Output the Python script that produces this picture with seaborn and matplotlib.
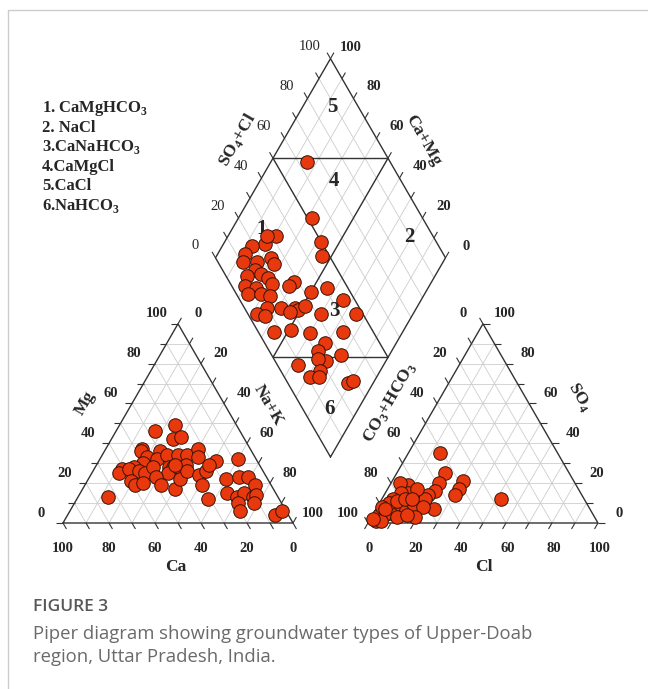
import numpy as np
import pandas as pd
import seaborn as sns
import matplotlib.pyplot as plt
from matplotlib.lines import Line2D

# cation triangle, %
ca = [27, 37, 31, 27, 47, 48, 40, 47, 43, 38, 33, 29, 50, 55, 61, 63, 58, 54, 52, 47,
      40, 38, 42, 36, 32, 60, 59, 55, 48, 48, 43, 38, 74, 23, 25, 18, 8, 33, 29, 25,
      30, 31, 18, 12, 8, 7, 21, 18, 14, 11, 9, 12, 19, 20, 6, 2, 37, 22]
mg = [49, 46, 42, 43, 37, 36, 36, 33, 32, 34, 34, 34, 30, 28, 27, 25, 27, 26, 25, 28,
      28, 28, 25, 28, 29, 21, 19, 20, 23, 19, 17, 22, 13, 37, 33, 31, 32, 26, 24, 26,
      19, 12, 22, 23, 23, 19, 15, 13, 15, 13, 14, 10, 10, 6, 4, 6, 29, 29]
nak = [24, 17, 27, 30, 16, 16, 24, 20, 25, 28, 33, 37, 20, 17, 12, 12, 15, 20, 23, 25,
       32, 34, 33, 36, 39, 19, 22, 25, 29, 33, 40, 40, 13, 40, 42, 51, 60, 41, 47, 49,
       51, 57, 60, 65, 69, 74, 64, 69, 71, 76, 77, 78, 71, 74, 90, 92, 34, 49]

# anion triangle, %
hco3 = [51, 54, 48, 52, 55, 36, 59, 63, 67, 72, 68, 73, 76, 75, 78, 69, 76, 72, 82, 85,
        88, 91, 93, 96, 86, 78, 81, 94, 83, 86, 90, 82, 78, 70, 97, 89, 75]
cl = [14, 21, 31, 31, 31, 52, 21, 21, 19, 16, 25, 8, 4, 10, 7, 19, 15, 20, 12, 7,
      7, 5, 3, 3, 11, 19, 15, 5, 5, 4, 2, 7, 10, 13, 1, 4, 13]
so4 = [35, 25, 21, 17, 14, 12, 20, 16, 14, 12, 7, 19, 20, 15, 15, 12, 9, 8, 6, 8,
       5, 4, 4, 1, 3, 3, 4, 1, 12, 10, 8, 11, 12, 17, 2, 7, 12]

# diamond, %
dia_nak = [16, 32, 42, 46, 21, 18, 13, 17, 12, 24, 13, 19, 27, 20, 18, 24, 28, 31, 20, 25,
           23, 29, 33, 40, 39, 56, 50, 66, 35, 41, 47, 49, 51, 46, 32, 36, 60, 75, 44, 51,
           60, 74, 69, 68, 74, 79, 63, 70, 74, 71, 75, 89, 91]
dia_so4cl = [64, 52, 50, 47, 32, 25, 19, 28, 14, 24, 11, 17, 24, 14, 9, 16, 18, 18, 6, 10,
             5, 11, 14, 28, 25, 41, 33, 45, 10, 16, 22, 23, 27, 19, 4, 7, 32, 47, 7, 15,
             22, 37, 26, 21, 22, 30, 9, 19, 17, 11, 15, 26, 29]

ticks = [0, 20, 40, 60, 80, 100]
legend_lines = ["1. CaMgHCO$_3$", "2. NaCl", "3.CaNaHCO$_3$", "4.CaMgCl", "5.CaCl", "6.NaHCO$_3$"]
zone_labels = ["1", "2", "3", "4", "5", "6"]
caption_title = "FIGURE 3"
caption_lines = ["Piper diagram showing groundwater types of Upper-Doab",
                 "region, Uttar Pradesh, India."]

sns.set_theme(style="white")
plt.rcParams['font.family'] = ['Liberation Serif', 'DejaVu Serif']
plt.rcParams['mathtext.fontset'] = 'custom'
plt.rcParams['mathtext.rm'] = 'Liberation Serif:bold'
plt.rcParams['mathtext.bf'] = 'Liberation Serif:bold'

H = np.sqrt(3) / 2
G = 0.326      # gap between the two triangles (side = 1)
DY = 0.287     # height of the diamond's lower corner
X2 = 1 + G     # left corner of anion triangle
BX, BY = 1 + G / 2, DY
LV = (BX - 0.5, BY + H)   # diamond left corner
RV = (BX + 0.5, BY + H)   # diamond right corner
TV = (BX, BY + 2 * H)     # diamond top

GRID = '#cdcdcd'
EDGE = '#333333'
DOT = '#E8380D'
TL = 0.03

fig = plt.figure(figsize=(6.48, 6.89), dpi=100)
ax = fig.add_axes([0, 0, 1, 1])
ax.set_xlim(-63 / 230, (648 - 63) / 230)
ax.set_ylim(-166 / 230, 523 / 230)
ax.axis('off')


def seg(p, q, **kw):
    ax.plot([p[0], q[0]], [p[1], q[1]], solid_capstyle='butt', **kw)


def triangle(x0):
    for f in np.arange(0.1, 0.95, 0.1):
        seg((x0 + f / 2, f * H), (x0 + 1 - f / 2, f * H), color=GRID, lw=0.6)
        seg((x0 + f, 0), (x0 + f + (1 - f) / 2, (1 - f) * H), color=GRID, lw=0.6)
        seg((x0 + 1 - f, 0), (x0 + (1 - f) / 2, (1 - f) * H), color=GRID, lw=0.6)
    ax.plot([x0, x0 + 1, x0 + 0.5, x0], [0, 0, H, 0], color=EDGE, lw=1.0)


triangle(0)
triangle(X2)

# diamond grid
for f in np.arange(0.1, 0.95, 0.1):
    p = (BX + 0.5 * f, BY + H * f)
    seg(p, (p[0] - 0.5, p[1] + H), color=GRID, lw=0.6)
    p = (BX - 0.5 * f, BY + H * f)
    seg(p, (p[0] + 0.5, p[1] + H), color=GRID, lw=0.6)
ax.plot([BX, RV[0], TV[0], LV[0], BX], [BY, RV[1], TV[1], LV[1], BY], color=EDGE, lw=1.0)
# zone boundaries
seg((BX - 0.25, BY + 1.5 * H), (BX + 0.25, BY + 1.5 * H), color=EDGE, lw=1.0)
seg((BX - 0.25, BY + 0.5 * H), (BX + 0.25, BY + 0.5 * H), color=EDGE, lw=1.0)
seg((BX - 0.25, BY + 1.5 * H), (BX + 0.25, BY + 0.5 * H), color=EDGE, lw=1.0)
seg((BX + 0.25, BY + 1.5 * H), (BX - 0.25, BY + 0.5 * H), color=EDGE, lw=1.0)

# tick marks
for f in np.arange(0, 1.01, 0.1):
    # cation triangle
    seg((f, 0), (f + 0.5 * TL, -H * TL), color=EDGE, lw=0.8)
    seg((f / 2, f * H), (f / 2 - TL, f * H), color=EDGE, lw=0.8)
    seg((1 - f / 2, f * H), (1 - f / 2 + 0.5 * TL, f * H + H * TL), color=EDGE, lw=0.8)
    # anion triangle
    seg((X2 + f, 0), (X2 + f - 0.5 * TL, -H * TL), color=EDGE, lw=0.8)
    seg((X2 + f / 2, f * H), (X2 + f / 2 - 0.5 * TL, f * H + H * TL), color=EDGE, lw=0.8)
    seg((X2 + 1 - f / 2, f * H), (X2 + 1 - f / 2 + TL, f * H), color=EDGE, lw=0.8)
    # diamond upper edges
    p = (LV[0] + 0.5 * f, LV[1] + H * f)
    seg(p, (p[0] - 0.5 * TL, p[1] + H * TL), color=EDGE, lw=0.8)
    p = (RV[0] - 0.5 * f, RV[1] + H * f)
    seg(p, (p[0] + 0.5 * TL, p[1] + H * TL), color=EDGE, lw=0.8)

# tick labels
kw = dict(ha='center', va='center', fontsize=10.5)
for v in ticks:
    f = v / 100
    ax.text(1 - f, -0.109, str(v), fontweight='bold', **kw)                      # Ca
    ax.text(f / 2 - 0.093, f * H + 0.043, str(v), fontweight='bold', **kw)        # Mg
    ax.text(0.5 + f / 2 + 0.087, (1 - f) * H + 0.043, str(v), fontweight='bold', **kw)  # Na+K
    ax.text(X2 + f + 0.006, -0.109, str(v), fontweight='bold', **kw)              # Cl
    ax.text(X2 + (1 - f) / 2 - 0.088, (1 - f) * H + 0.043, str(v), fontweight='bold', **kw)  # HCO3
    ax.text(X2 + 1 - f / 2 + 0.093, f * H + 0.043, str(v), fontweight='bold', **kw)  # SO4
    ax.text(LV[0] + 0.5 * f - 0.09, LV[1] + H * f + 0.052, str(v), **kw)          # SO4+Cl
    ax.text(RV[0] - 0.5 * f + 0.09, RV[1] + H * f + 0.05, str(v), fontweight='bold', **kw)  # Ca+Mg

# axis titles
lab = dict(ha='center', va='center', fontsize=12.5, fontweight='bold')
ax.text(0.491, -0.191, "Ca", **lab)
ax.text(X2 + 0.504, -0.191, "Cl", **lab)
ax.text(0.096, 0.522, "Mg", rotation=60, **lab)
ax.text(0.891, 0.513, "Na+K", rotation=-60, **lab)
ax.text(1.422, 0.522, "CO$_3$+HCO$_3$", rotation=60, **lab)
ax.text(2.248, 0.548, "SO$_4$", rotation=-60, **lab)
ax.text(0.757, 1.665, "SO$_4$+Cl", rotation=60, **lab)
ax.text(1.565, 1.665, "Ca+Mg", rotation=-60, **lab)

# zone numbers
zone_xy = [(0.865, 1.278), (1.504, 1.243), (1.178, 0.922),
           (1.178, 1.487), (1.170, 1.809), (1.157, 0.496)]
for z, (zx, zy) in zip(zone_labels, zone_xy):
    ax.text(zx, zy, z, ha='center', va='center', fontsize=15, fontweight='bold')

# data points
cat = pd.DataFrame({'mg': mg, 'nak': nak}) / 100
cat['x'] = cat['nak'] + cat['mg'] / 2
cat['y'] = cat['mg'] * H
an = pd.DataFrame({'cl': cl, 'so4': so4}) / 100
an['x'] = X2 + an['cl'] + an['so4'] / 2
an['y'] = an['so4'] * H
dia = pd.DataFrame({'nak': dia_nak, 's': dia_so4cl}) / 100
dia['c'] = 1 - dia['nak']
dia['x'] = BX + 0.5 * (dia['s'] - dia['c'])
dia['y'] = BY + H * (dia['s'] + dia['c'])

pts = pd.concat([cat[['x', 'y']], an[['x', 'y']], dia[['x', 'y']]], ignore_index=True)
sns.scatterplot(data=pts, x='x', y='y', ax=ax, s=95, color=DOT, edgecolor='#3b1206',
                linewidth=0.7, zorder=5, legend=False)

# legend of water types
for i, t in enumerate(legend_lines):
    fig.text(42 / 648, 1 - (108 + 19.6 * i) / 689, t, ha='left', va='center',
             fontsize=12, fontweight='bold')

# caption and frame
fig.text(33 / 648, 1 - 607 / 689, caption_title, ha='left', va='center',
         fontsize=12.5, fontweight='semibold', color='#585858', family='Open Sans')
for i, t in enumerate(caption_lines):
    fig.text(33 / 648, 1 - (634 + 23 * i) / 689, t, ha='left', va='center',
             fontsize=13.3, color='#6a6a6a', family='Open Sans')
fig.add_artist(Line2D([8 / 648, 8 / 648], [0, 1 - 10 / 689], transform=fig.transFigure,
                      color='#cccccc', lw=1))
fig.add_artist(Line2D([8 / 648, 1], [1 - 10 / 689, 1 - 10 / 689], transform=fig.transFigure,
                      color='#cccccc', lw=1))

fig.savefig("out.png", dpi=100)
